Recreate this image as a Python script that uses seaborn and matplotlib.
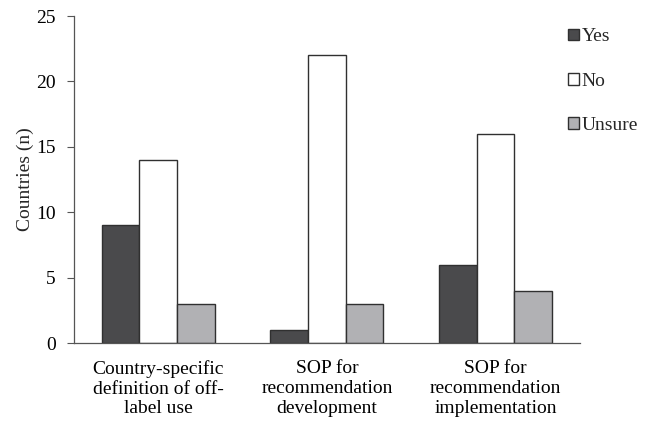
import numpy as np
import matplotlib
matplotlib.use('Agg')
import matplotlib.pyplot as plt
import pandas as pd
import seaborn as sns

categories = ['Country-specific\ndefinition of off-\nlabel use',
              'SOP for\nrecommendation\ndevelopment',
              'SOP for\nrecommendation\nimplementation']
answers = ['Yes', 'No', 'Unsure']
yes_counts = [9, 1, 6]
no_counts = [14, 22, 16]
unsure_counts = [3, 3, 4]
colors = ['#4a4a4c', '#ffffff', '#b1b1b4']

rows = []
for i, cat in enumerate(categories):
    rows.append((cat, 'Yes', yes_counts[i]))
    rows.append((cat, 'No', no_counts[i]))
    rows.append((cat, 'Unsure', unsure_counts[i]))
df = pd.DataFrame(rows, columns=['item', 'answer', 'n'])

sns.set_style('white')
plt.rcParams['font.family'] = ['Liberation Serif', 'DejaVu Serif']

fig = plt.figure(figsize=(6.52, 4.24), dpi=100)
ax = fig.add_axes([0.1135, 0.191, 0.776, 0.771])
sns.barplot(data=df, x='item', y='n', hue='answer', hue_order=answers,
            palette=colors, width=0.67, edgecolor='#303030', linewidth=1.0,
            saturation=1, ax=ax)

ax.set_ylim(0, 25)
ax.set_yticks(np.arange(0, 26, 5))
ax.set_xlabel('')
ax.set_ylabel('Countries (n)', fontsize=14, labelpad=2)
ax.tick_params(axis='y', which='both', left=True, length=5, width=0.8,
               color='#555555', labelsize=14, labelcolor='black', pad=8)
ax.tick_params(axis='x', bottom=False, labelsize=14, labelcolor='black', pad=9)
for s in ['top', 'right']:
    ax.spines[s].set_visible(False)
for s in ['left', 'bottom']:
    ax.spines[s].set_color('#555555')
    ax.spines[s].set_linewidth(0.9)

ax.legend(loc='upper left', bbox_to_anchor=(0.871, 0.933),
          bbox_transform=fig.transFigure, frameon=False, fontsize=14,
          handlelength=0.55, handleheight=0.55, handletextpad=0.15,
          labelspacing=1.4, borderaxespad=0, borderpad=0)

fig.savefig('out.png', dpi=100)
